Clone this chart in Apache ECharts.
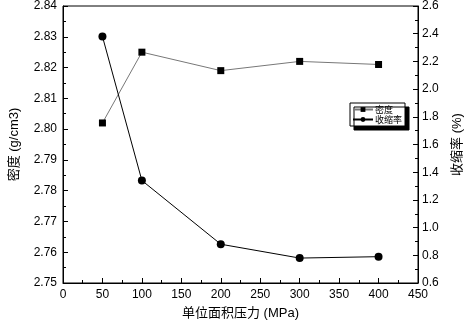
<!DOCTYPE html>
<html lang="zh">
<head>
  <meta charset="UTF-8">
  <title>密度与收缩率</title>
  <script src="https://cdn.jsdelivr.net/npm/echarts@6/dist/echarts.min.js"></script>
  <style>
    html, body { margin: 0; padding: 0; background: #fff; }
  </style>
</head>
<body>
  <div id="main" style="width: 472px;height:325px;"></div>
  <script>
    // 数据
    var pressure = [50, 100, 200, 300, 400];
    var density = [2.802, 2.825, 2.819, 2.822, 2.821];
    var shrinkage = [2.38, 1.34, 0.88, 0.78, 0.79];

    var myChart = echarts.init(document.getElementById('main'));
    var font = 'Arial, "Liberation Sans", "Noto Sans CJK SC", sans-serif';

    function pairs(xs, ys) {
      return xs.map(function (x, i) { return [x, ys[i]]; });
    }

    var option = {
      animation: false,
      grid: {
        left: 53, right: 43, top: 6, bottom: 42,
        show: true, borderColor: '#000', borderWidth: 1
      },
      legend: {
        left: 350, top: 103,
        orient: 'vertical',
        itemWidth: 20, itemHeight: 6, itemGap: 1,
        padding: [2, 3, 2, 2],
        backgroundColor: '#fff',
        borderColor: '#000', borderWidth: 1, borderRadius: 0,
        shadowColor: '#000', shadowBlur: 0, shadowOffsetX: 4, shadowOffsetY: 4,
        textStyle: { fontSize: 9, color: '#000', fontFamily: '"Noto Sans CJK SC", sans-serif', padding: [0, 0, 0, -3] },
        data: ['密度', '收缩率']
      },
      xAxis: {
        type: 'value', min: 0, max: 450, interval: 50,
        name: '单位面积压力 (MPa)', nameLocation: 'middle', nameGap: 24,
        nameTextStyle: { fontSize: 13, color: '#000', fontFamily: font },
        axisLine: { lineStyle: { color: '#000' } },
        axisTick: { inside: true, length: 5, lineStyle: { color: '#000' } },
        minorTick: { show: true, splitNumber: 2, length: 3, lineStyle: { color: '#000' } },
        axisLabel: { fontSize: 12, color: '#000', fontFamily: font, margin: 6 },
        splitLine: { show: false }
      },
      yAxis: [
        {
          type: 'value', min: 2.75, max: 2.84, interval: 0.01,
          name: '密度 (g/cm3)', nameLocation: 'middle', nameGap: 42,
          nameTextStyle: { fontSize: 13, color: '#000', fontFamily: font },
          axisLine: { show: true, lineStyle: { color: '#000' } },
          axisTick: { show: true, inside: true, length: 5, lineStyle: { color: '#000' } },
          minorTick: { show: true, splitNumber: 2, length: 3, lineStyle: { color: '#000' } },
          axisLabel: { fontSize: 12, color: '#000', fontFamily: font, margin: 6,
            formatter: function (v) { return v.toFixed(2); } },
          splitLine: { show: false }
        },
        {
          type: 'value', min: 0.6, max: 2.6, interval: 0.2,
          name: '收缩率 (%)', nameLocation: 'middle', nameGap: 33,
          nameTextStyle: { fontSize: 13, color: '#000', fontFamily: font },
          axisLine: { show: true, lineStyle: { color: '#000' } },
          axisTick: { show: true, inside: true, length: 5, lineStyle: { color: '#000' } },
          minorTick: { show: true, splitNumber: 2, length: 3, lineStyle: { color: '#000' } },
          axisLabel: { fontSize: 12, color: '#000', fontFamily: font, margin: 4,
            formatter: function (v) { return v.toFixed(1); } },
          splitLine: { show: false }
        }
      ],
      series: [
        {
          name: '密度', type: 'line', yAxisIndex: 0,
          symbol: 'rect', symbolSize: 7,
          lineStyle: { color: '#777', width: 1 },
          itemStyle: { color: '#000' },
          data: pairs(pressure, density)
        },
        {
          name: '收缩率', type: 'line', yAxisIndex: 1,
          symbol: 'circle', symbolSize: 8,
          lineStyle: { color: '#000', width: 1 },
          itemStyle: { color: '#000' },
          data: pairs(pressure, shrinkage)
        }
      ]
    };

    myChart.setOption(option);
  </script>
</body>
</html>
